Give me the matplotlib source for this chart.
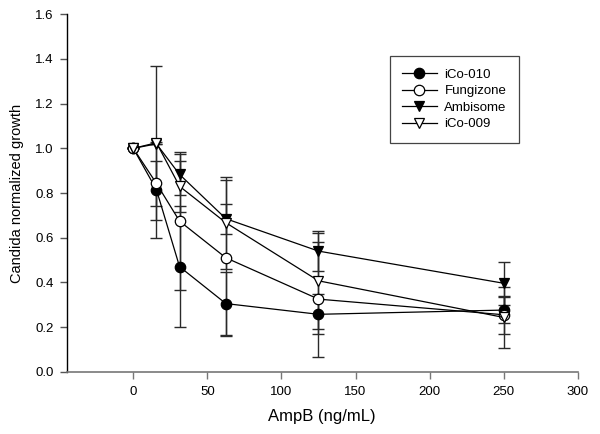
import numpy as np
import matplotlib
matplotlib.use("Agg")
import matplotlib.pyplot as plt

plt.rcParams['font.family'] = ['Liberation Sans', 'DejaVu Sans']

# AmpB concentrations (ng/mL)
dose = [0, 15.625, 31.25, 62.5, 125, 250]

# normalized growth and error bars for each formulation
ico010 = [1.0, 0.815, 0.47, 0.305, 0.257, 0.276]
ico010_err = [0, 0.215, 0.27, 0.14, 0.09, 0.057]
fungizone = [1.0, 0.843, 0.674, 0.51, 0.325, 0.255]
fungizone_err = [0, 0.10, 0.31, 0.35, 0.257, 0.086]
ambisome = [1.0, 1.02, 0.883, 0.685, 0.54, 0.396]
ambisome_err = [0, 0, 0.09, 0.068, 0.09, 0.096]
ico009 = [1.0, 1.025, 0.83, 0.667, 0.407, 0.243]
ico009_err = [0, 0.345, 0.115, 0.205, 0.215, 0.138]

labels = ["iCo-010", "Fungizone", "Ambisome", "iCo-009"]

fig = plt.figure(figsize=(6, 4.34), dpi=100)
ax = fig.add_axes([0.111, 0.1435, 0.852, 0.8235])

series = [
    (ico010, ico010_err, "o", "black"),
    (fungizone, fungizone_err, "o", "white"),
    (ambisome, ambisome_err, "v", "black"),
    (ico009, ico009_err, "v", "white"),
]

# error bars first, then the lines with markers on top
for y, err, m, fc in series:
    ax.errorbar(dose, y, yerr=err, fmt="none", ecolor="#2a2a2a",
                elinewidth=1, capsize=4, capthick=1, zorder=2)
for (y, err, m, fc), lab in zip(series, labels):
    ax.plot(dose, y, color="black", lw=0.9, marker=m, markersize=7.5,
            markerfacecolor=fc, markeredgecolor="black", markeredgewidth=0.9,
            label=lab, zorder=3)

ax.set_xlim(-45, 300)
ax.set_ylim(0, 1.6)
ax.set_xticks(np.arange(0, 301, 50))
ax.set_yticks(np.arange(0, 1.61, 0.2))
ax.set_yticklabels([f"{v:.1f}" for v in np.arange(0, 1.61, 0.2)])

ax.spines["top"].set_visible(False)
ax.spines["right"].set_visible(False)
ax.spines["left"].set_color("black")
ax.spines["bottom"].set_color("#777777")
ax.spines["left"].set_linewidth(1)
ax.spines["bottom"].set_linewidth(1.2)
ax.tick_params(axis="x", direction="out", length=5, width=1, color="#777777",
               labelsize=9.5, pad=5.5)
ax.tick_params(axis="y", direction="out", length=5, width=1, color="#555555",
               labelsize=9.5, pad=4.5)

ax.set_xlabel("AmpB (ng/mL)", fontsize=12, labelpad=8)
ax.set_ylabel("Candida normalized growth", fontsize=10.5, labelpad=8)

leg = ax.legend(loc="upper left", bbox_to_anchor=(0.632, 0.883),
                borderaxespad=0, fontsize=9.5, handlelength=2.6,
                handletextpad=0.6, labelspacing=0.32, borderpad=0.95,
                fancybox=False, framealpha=1, edgecolor="#444444")
leg.get_frame().set_linewidth(0.9)

fig.savefig("out.png", dpi=100)
